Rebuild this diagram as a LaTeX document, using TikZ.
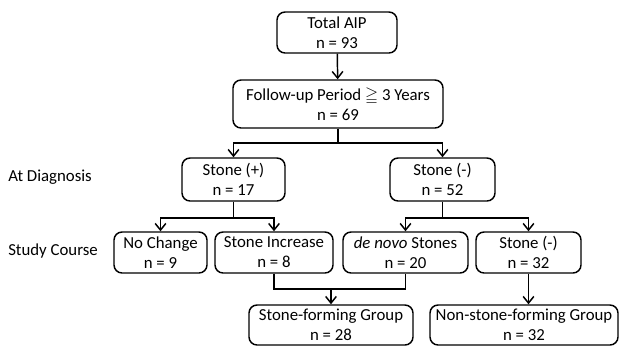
\documentclass[tikz,border=0pt]{standalone}
\usepackage{amssymb}
\usepackage{fontspec}
\setmainfont{Carlito}
\usetikzlibrary{arrows.meta}

\begin{document}
\begin{tikzpicture}[x=0.75pt, y=-0.75pt, font=\fontsize{12.6}{15}\selectfont,
box/.style={draw, line width=1.1pt, rounded corners=6pt, align=center, inner sep=0pt, minimum height=30.75pt},
arr/.style={line width=1.1pt, -{Straight Barb[length=5pt,width=8pt,line width=1.1pt]}},
lin/.style={line width=1.1pt}]
\par
\useasboundingbox (0,0) rectangle (626,347);
\node[box, minimum width=90pt] (total) at (337,32.5) {Total AIP\\n = 93};
\node[box, minimum width=157.5pt, minimum height=36pt] (follow) at (338,104) {Follow-up Period $\geqq$ 3 Years\\n = 69};
\node[box, minimum width=77.25pt, minimum height=32.25pt] (plus) at (233.5,179.5) {Stone (+)\\n = 17};
\node[box, minimum width=78.75pt, minimum height=32.25pt] (minus) at (442.5,179.5) {Stone (-)\\n = 52};
\node[box, minimum width=69.75pt] (nochange) at (160.5,252.5) {No Change\\n = 9};
\node[box, minimum width=88.5pt] (increase) at (274,252.5) {Stone Increase\\n = 8};
\node[box, minimum width=93.75pt] (denovo) at (405.5,252.5) {\textit{de novo} Stones\\n = 20};
\node[box, minimum width=78.75pt] (minustwo) at (528.5,252.5) {Stone (-)\\n = 32};
\node[box, minimum width=123pt, minimum height=30pt] (sfg) at (331,325) {Stone-forming Group\\n = 28};
\node[box, minimum width=141pt, minimum height=30pt] (nsfg) at (524,325) {Non-stone-forming Group\\n = 32};
\node[anchor=west, inner sep=0pt] (diag) at (8,177) {At Diagnosis};
\node[anchor=west, inner sep=0pt] (course) at (8,251) {Study Course};
\coordinate (sa) at (338,143);
\coordinate (sb) at (233.5,218);
\coordinate (sc) at (442.5,218);
\coordinate (sd) at (331,289);
\par
\draw[arr] (total) -- (follow);
\draw[arr] (follow.south) -- (sa) -| (plus.north);
\draw[arr] (sa) -| (minus.north);
\draw[arr] (plus.south) -- (sb) -| (nochange.north);
\draw[arr] (sb) -| (increase.north);
\draw[arr] (minus.south) -- (sc) -| (denovo.north);
\draw[arr] (sc) -| (minustwo.north);
\draw[lin] (increase.south) |- (sd) -| (denovo.south);
\draw[arr] (sd) -- (sd |- sfg.north);
\draw[arr] (minustwo.south) -- (minustwo.south |- nsfg.north);
\par
\end{tikzpicture}
\end{document}
